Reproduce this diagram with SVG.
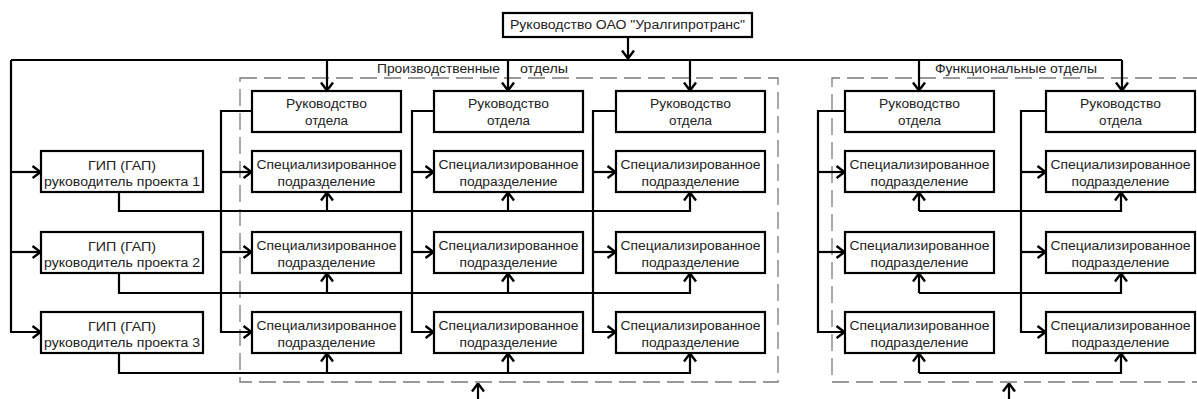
<svg xmlns="http://www.w3.org/2000/svg" width="1197" height="399" viewBox="0 0 1197 399">
<defs>
<marker id="ah" viewBox="0 0 10 14" refX="9.5" refY="7" markerWidth="10" markerHeight="14" markerUnits="userSpaceOnUse" orient="auto">
<path d="M1,1 L9,7 L1,13" fill="none" stroke="#000" stroke-width="2.4"/>
</marker>
</defs>
<style>
.box{fill:#fff;stroke:#000;stroke-width:2.2}
.frame{fill:none;stroke:#7a7a7a;stroke-width:1.3;stroke-dasharray:17 7}
.c{fill:none;stroke:#000;stroke-width:2.2}
.a{fill:none;stroke:#000;stroke-width:2.2;marker-end:url(#ah)}
text{font-family:"Liberation Sans",Arial,sans-serif;font-size:12.5px;fill:#222}
.m{text-anchor:middle}
</style>
<rect width="1197" height="399" fill="#fff"/>

<g id="frames">
<rect class="frame" x="240" y="78" width="538" height="304"/>
<path class="frame" d="M1200,78 H832 V382 H1200"/>
<text x="377" y="73" textLength="123" lengthAdjust="spacingAndGlyphs">Производственные</text>
<text x="520" y="73" textLength="48" lengthAdjust="spacingAndGlyphs">отделы</text>
<text x="935" y="73" textLength="162" lengthAdjust="spacingAndGlyphs">Функциональные отделы</text>
</g>

<g id="connectors">
<path class="a" d="M628,37 V59"/>
<path class="c" d="M11,60 H1122"/>
<path class="a" d="M327,60 V91"/>
<path class="a" d="M508,60 V91"/>
<path class="a" d="M690,60 V91"/>
<path class="a" d="M919,60 V91"/>
<path class="a" d="M1122,60 V91"/>
<path class="a" d="M11,60 V332 H41"/>
<path class="a" d="M11,172 H41"/>
<path class="a" d="M11,252 H41"/>

<path class="a" d="M252,111 H221 V332 H252"/>
<path class="a" d="M221,172 H252"/>
<path class="a" d="M221,252 H252"/>
<path class="a" d="M434,111 H412 V332 H434"/>
<path class="a" d="M412,172 H434"/>
<path class="a" d="M412,252 H434"/>
<path class="a" d="M616,111 H593 V332 H616"/>
<path class="a" d="M593,172 H616"/>
<path class="a" d="M593,252 H616"/>
<path class="a" d="M845,111 H818 V332 H845"/>
<path class="a" d="M818,172 H845"/>
<path class="a" d="M818,252 H845"/>
<path class="a" d="M1046,111 H1021 V332 H1046"/>
<path class="a" d="M1021,172 H1046"/>
<path class="a" d="M1021,252 H1046"/>

<path class="a" d="M119,192 V211 H690 V192"/>
<path class="a" d="M327,211 V192"/>
<path class="a" d="M508,211 V192"/>
<path class="a" d="M119,273 V293 H690 V273"/>
<path class="a" d="M327,293 V273"/>
<path class="a" d="M508,293 V273"/>
<path class="a" d="M119,353 V373 H690 V353"/>
<path class="a" d="M327,373 V353"/>
<path class="a" d="M508,373 V353"/>

<path class="a" d="M919,211 H1121 V192"/>
<path class="a" d="M919,211 V192"/>
<path class="a" d="M919,293 H1121 V273"/>
<path class="a" d="M919,293 V273"/>
<path class="a" d="M919,373 H1121 V353"/>
<path class="a" d="M919,373 V353"/>

<path class="a" d="M478,400 V383"/>
<path class="a" d="M1009,400 V383"/>
</g>

<g id="top">
<rect class="box" x="503" y="13" width="249" height="24"/>
<text class="m" x="627.5" y="29" textLength="235" lengthAdjust="spacingAndGlyphs">Руководство ОАО "Уралгипротранс"</text>
</g>

<g id="gip1">
<rect class="box" x="41" y="151" width="162" height="41"/>
<text class="m" x="122" y="170" textLength="68" lengthAdjust="spacingAndGlyphs">ГИП (ГАП)</text>
<text class="m" x="122" y="186" textLength="156" lengthAdjust="spacingAndGlyphs">руководитель проекта 1</text>
</g>
<g id="gip2">
<rect class="box" x="41" y="232" width="162" height="41"/>
<text class="m" x="122" y="251" textLength="68" lengthAdjust="spacingAndGlyphs">ГИП (ГАП)</text>
<text class="m" x="122" y="267" textLength="156" lengthAdjust="spacingAndGlyphs">руководитель проекта 2</text>
</g>
<g id="gip3">
<rect class="box" x="41" y="312" width="162" height="41"/>
<text class="m" x="122" y="331" textLength="68" lengthAdjust="spacingAndGlyphs">ГИП (ГАП)</text>
<text class="m" x="122" y="347" textLength="156" lengthAdjust="spacingAndGlyphs">руководитель проекта 3</text>
</g>

<g id="p1-head"><rect class="box" x="252" y="91" width="149" height="41"/>
<text class="m" x="326.5" y="108" textLength="81" lengthAdjust="spacingAndGlyphs">Руководство</text>
<text class="m" x="326.5" y="125" textLength="43" lengthAdjust="spacingAndGlyphs">отдела</text></g>
<g id="p2-head"><rect class="box" x="434" y="91" width="149" height="41"/>
<text class="m" x="508.5" y="108" textLength="81" lengthAdjust="spacingAndGlyphs">Руководство</text>
<text class="m" x="508.5" y="125" textLength="43" lengthAdjust="spacingAndGlyphs">отдела</text></g>
<g id="p3-head"><rect class="box" x="616" y="91" width="149" height="41"/>
<text class="m" x="690.5" y="108" textLength="81" lengthAdjust="spacingAndGlyphs">Руководство</text>
<text class="m" x="690.5" y="125" textLength="43" lengthAdjust="spacingAndGlyphs">отдела</text></g>
<g id="f1-head"><rect class="box" x="845" y="91" width="149" height="41"/>
<text class="m" x="919.5" y="108" textLength="81" lengthAdjust="spacingAndGlyphs">Руководство</text>
<text class="m" x="919.5" y="125" textLength="43" lengthAdjust="spacingAndGlyphs">отдела</text></g>
<g id="f2-head"><rect class="box" x="1046" y="91" width="149" height="41"/>
<text class="m" x="1120.5" y="108" textLength="81" lengthAdjust="spacingAndGlyphs">Руководство</text>
<text class="m" x="1120.5" y="125" textLength="43" lengthAdjust="spacingAndGlyphs">отдела</text></g>

<g id="p1-s1"><rect class="box" x="252" y="151" width="149" height="41"/>
<text class="m" x="326.5" y="169" textLength="140" lengthAdjust="spacingAndGlyphs">Специализированное</text>
<text class="m" x="326.5" y="186" textLength="98" lengthAdjust="spacingAndGlyphs">подразделение</text></g>
<g id="p2-s1"><rect class="box" x="434" y="151" width="149" height="41"/>
<text class="m" x="508.5" y="169" textLength="140" lengthAdjust="spacingAndGlyphs">Специализированное</text>
<text class="m" x="508.5" y="186" textLength="98" lengthAdjust="spacingAndGlyphs">подразделение</text></g>
<g id="p3-s1"><rect class="box" x="616" y="151" width="149" height="41"/>
<text class="m" x="690.5" y="169" textLength="140" lengthAdjust="spacingAndGlyphs">Специализированное</text>
<text class="m" x="690.5" y="186" textLength="98" lengthAdjust="spacingAndGlyphs">подразделение</text></g>
<g id="f1-s1"><rect class="box" x="845" y="151" width="149" height="41"/>
<text class="m" x="919.5" y="169" textLength="140" lengthAdjust="spacingAndGlyphs">Специализированное</text>
<text class="m" x="919.5" y="186" textLength="98" lengthAdjust="spacingAndGlyphs">подразделение</text></g>
<g id="f2-s1"><rect class="box" x="1046" y="151" width="149" height="41"/>
<text class="m" x="1120.5" y="169" textLength="140" lengthAdjust="spacingAndGlyphs">Специализированное</text>
<text class="m" x="1120.5" y="186" textLength="98" lengthAdjust="spacingAndGlyphs">подразделение</text></g>

<g id="p1-s2"><rect class="box" x="252" y="232" width="149" height="41"/>
<text class="m" x="326.5" y="250" textLength="140" lengthAdjust="spacingAndGlyphs">Специализированное</text>
<text class="m" x="326.5" y="267" textLength="98" lengthAdjust="spacingAndGlyphs">подразделение</text></g>
<g id="p2-s2"><rect class="box" x="434" y="232" width="149" height="41"/>
<text class="m" x="508.5" y="250" textLength="140" lengthAdjust="spacingAndGlyphs">Специализированное</text>
<text class="m" x="508.5" y="267" textLength="98" lengthAdjust="spacingAndGlyphs">подразделение</text></g>
<g id="p3-s2"><rect class="box" x="616" y="232" width="149" height="41"/>
<text class="m" x="690.5" y="250" textLength="140" lengthAdjust="spacingAndGlyphs">Специализированное</text>
<text class="m" x="690.5" y="267" textLength="98" lengthAdjust="spacingAndGlyphs">подразделение</text></g>
<g id="f1-s2"><rect class="box" x="845" y="232" width="149" height="41"/>
<text class="m" x="919.5" y="250" textLength="140" lengthAdjust="spacingAndGlyphs">Специализированное</text>
<text class="m" x="919.5" y="267" textLength="98" lengthAdjust="spacingAndGlyphs">подразделение</text></g>
<g id="f2-s2"><rect class="box" x="1046" y="232" width="149" height="41"/>
<text class="m" x="1120.5" y="250" textLength="140" lengthAdjust="spacingAndGlyphs">Специализированное</text>
<text class="m" x="1120.5" y="267" textLength="98" lengthAdjust="spacingAndGlyphs">подразделение</text></g>

<g id="p1-s3"><rect class="box" x="252" y="312" width="149" height="41"/>
<text class="m" x="326.5" y="330" textLength="140" lengthAdjust="spacingAndGlyphs">Специализированное</text>
<text class="m" x="326.5" y="347" textLength="98" lengthAdjust="spacingAndGlyphs">подразделение</text></g>
<g id="p2-s3"><rect class="box" x="434" y="312" width="149" height="41"/>
<text class="m" x="508.5" y="330" textLength="140" lengthAdjust="spacingAndGlyphs">Специализированное</text>
<text class="m" x="508.5" y="347" textLength="98" lengthAdjust="spacingAndGlyphs">подразделение</text></g>
<g id="p3-s3"><rect class="box" x="616" y="312" width="149" height="41"/>
<text class="m" x="690.5" y="330" textLength="140" lengthAdjust="spacingAndGlyphs">Специализированное</text>
<text class="m" x="690.5" y="347" textLength="98" lengthAdjust="spacingAndGlyphs">подразделение</text></g>
<g id="f1-s3"><rect class="box" x="845" y="312" width="149" height="41"/>
<text class="m" x="919.5" y="330" textLength="140" lengthAdjust="spacingAndGlyphs">Специализированное</text>
<text class="m" x="919.5" y="347" textLength="98" lengthAdjust="spacingAndGlyphs">подразделение</text></g>
<g id="f2-s3"><rect class="box" x="1046" y="312" width="149" height="41"/>
<text class="m" x="1120.5" y="330" textLength="140" lengthAdjust="spacingAndGlyphs">Специализированное</text>
<text class="m" x="1120.5" y="347" textLength="98" lengthAdjust="spacingAndGlyphs">подразделение</text></g>
</svg>
